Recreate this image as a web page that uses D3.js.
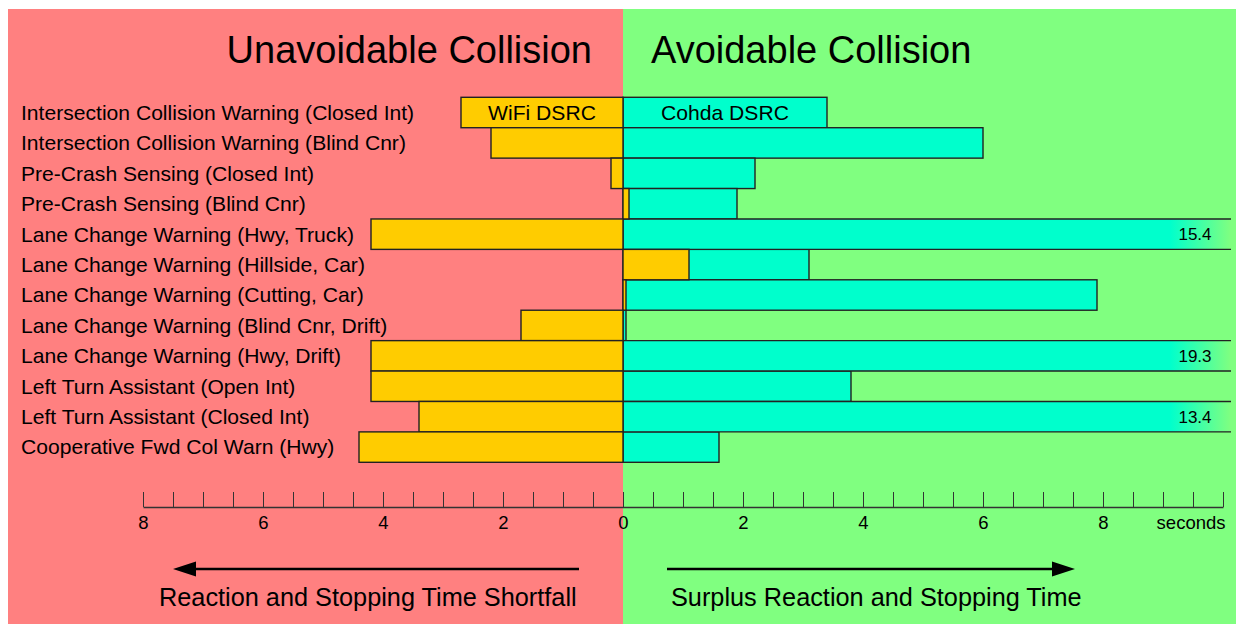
<!DOCTYPE html>
<html><head><meta charset="utf-8">
<script src="https://cdn.jsdelivr.net/npm/d3@7/dist/d3.min.js"></script>
<style>body{margin:0;background:#fff}svg{display:block;font-family:"Liberation Sans",Arial,sans-serif}</style>
</head><body><svg id="c" width="1236" height="624"></svg>
<script>
const categories = [
  "Intersection Collision Warning (Closed Int)",
  "Intersection Collision Warning (Blind Cnr)",
  "Pre-Crash Sensing (Closed Int)",
  "Pre-Crash Sensing (Blind Cnr)",
  "Lane Change Warning (Hwy, Truck)",
  "Lane Change Warning (Hillside, Car)",
  "Lane Change Warning (Cutting, Car)",
  "Lane Change Warning (Blind Cnr, Drift)",
  "Lane Change Warning (Hwy, Drift)",
  "Left Turn Assistant (Open Int)",
  "Left Turn Assistant (Closed Int)",
  "Cooperative Fwd Col Warn (Hwy)"
];
const wifi  = [-2.7, -2.2, -0.2, 0.1, -4.2, 1.1, 0.05, -1.7, -4.2, -4.2, -3.4, -4.4];
const cohda = [3.4, 6.0, 2.2, 1.9, 15.4, 3.1, 7.9, 0.05, 19.3, 3.8, 13.4, 1.6];
const seriesNames = ["WiFi DSRC", "Cohda DSRC"];
const tickValues = [-8, -6, -4, -2, 0, 2, 4, 6, 8, 10];
const tickLabels = ["8", "6", "4", "2", "0", "2", "4", "6", "8", "seconds"];
const titles = ["Unavoidable Collision", "Avoidable Collision"];
const footers = ["Reaction and Stopping Time Shortfall", "Surplus Reaction and Stopping Time"];

const svg = d3.select("#c");
const x = d3.scaleLinear().domain([-8, 10]).range([143, 1223]);
const y = d3.scaleBand().domain(categories).range([97.3, 462.3]).padding(0);
const cutX = 1231, fadeX = 1170;
const RED = "#ff8080", GREEN = "#80ff80", YEL = "#ffcc00", CYAN = "#00ffcc";
const LBL = 21.1;

// backgrounds
svg.append("rect").attr("x", 8).attr("y", 9).attr("width", x(0) - 8).attr("height", 624 - 9).attr("fill", RED);
svg.append("rect").attr("x", x(0)).attr("y", 9).attr("width", 1236 - x(0)).attr("height", 624 - 9).attr("fill", GREEN);

const defs = svg.append("defs");
const g = defs.append("linearGradient").attr("id", "fade").attr("gradientUnits", "userSpaceOnUse")
  .attr("x1", fadeX).attr("x2", cutX).attr("y1", 0).attr("y2", 0);
g.append("stop").attr("offset", 0).attr("stop-color", CYAN);
g.append("stop").attr("offset", 1).attr("stop-color", GREEN);

// titles
svg.append("text").attr("x", 592).attr("y", 63).attr("text-anchor", "end").attr("font-size", 38).text(titles[0]);
svg.append("text").attr("x", 651).attr("y", 63).attr("text-anchor", "start").attr("font-size", 38).text(titles[1]);

// row labels
svg.append("g").selectAll("text").data(categories).join("text")
  .attr("x", 21).attr("y", d => y(d) + y.bandwidth() / 2).attr("dy", "0.35em")
  .attr("font-size", LBL).text(d => d);

function barRect(sel, vals, fill) {
  const rows = vals.map((v, i) => ({v, i}));
  const normal = rows.filter(d => x(d.v) <= cutX);
  const over = rows.filter(d => x(d.v) > cutX);
  sel.selectAll("rect.n").data(normal).join("rect").attr("class", "n")
    .attr("x", d => d.v < 0 ? x(d.v) : x(0))
    .attr("width", d => Math.abs(x(d.v) - x(0)))
    .attr("y", d => y(categories[d.i]))
    .attr("height", y.bandwidth())
    .attr("fill", fill)
    .attr("stroke", "#222").attr("stroke-width", 1.4);
  const o = sel.selectAll("g.o").data(over).join("g").attr("class", "o");
  o.append("rect").attr("x", x(0)).attr("width", cutX - x(0))
    .attr("y", d => y(categories[d.i])).attr("height", y.bandwidth()).attr("fill", "url(#fade)");
  o.append("path").attr("fill", "none").attr("stroke", "#222").attr("stroke-width", 1.4)
    .attr("d", d => { const t = y(categories[d.i]), b = t + y.bandwidth();
      return `M${cutX},${t}H${x(0)}V${b}H${cutX}`; });
}
barRect(svg.append("g"), cohda, CYAN);
barRect(svg.append("g"), wifi, YEL);

// overflow value labels
svg.append("g").selectAll("text").data(cohda.map((v, i) => ({v, i})).filter(d => x(d.v) > cutX)).join("text")
  .attr("x", 1195).attr("y", d => y(categories[d.i]) + y.bandwidth() / 2).attr("dy", "0.35em")
  .attr("text-anchor", "middle").attr("font-size", 17).text(d => d.v.toFixed(1));

// series labels in first row
svg.append("text").attr("x", (x(wifi[0]) + x(0)) / 2).attr("y", y(categories[0]) + y.bandwidth() / 2).attr("dy", "0.35em")
  .attr("text-anchor", "middle").attr("font-size", LBL).text(seriesNames[0]);
svg.append("text").attr("x", (x(cohda[0]) + x(0)) / 2).attr("y", y(categories[0]) + y.bandwidth() / 2).attr("dy", "0.35em")
  .attr("text-anchor", "middle").attr("font-size", LBL).text(seriesNames[1]);

// axis
const axis = d3.axisBottom(x).tickValues(d3.range(-8, 10.001, 0.5)).tickSizeInner(-15).tickSizeOuter(0).tickPadding(9)
  .tickFormat(v => { const k = tickValues.indexOf(v); return k >= 0 ? tickLabels[k] : ""; });
const ax = svg.append("g").attr("transform", "translate(0,507)").call(axis);
ax.select(".domain").attr("stroke", "#333").attr("stroke-width", 1.3);
ax.selectAll(".tick line").attr("stroke", "#333").attr("stroke-width", 1);
ax.selectAll(".tick text").attr("font-size", 18.5).attr("fill", "#000").attr("font-family", "Liberation Sans, Arial, sans-serif");
ax.selectAll(".tick text").filter(d => d === 10).attr("text-anchor", "end").attr("dx", 2);

// arrows
function arrow(x1, x2, yy) {
  const dir = Math.sign(x2 - x1), head = 23, hw = 7.5;
  svg.append("line").attr("x1", x1).attr("x2", x2 - dir * head).attr("y1", yy).attr("y2", yy)
    .attr("stroke", "#000").attr("stroke-width", 2.5);
  svg.append("path").attr("d", `M${x2},${yy} L${x2 - dir * head},${yy - hw} L${x2 - dir * head},${yy + hw} Z`).attr("fill", "#000");
}
arrow(579, 173, 569);
arrow(667, 1075, 569);
svg.append("text").attr("x", 159).attr("y", 606).attr("font-size", 25.3).text(footers[0]);
svg.append("text").attr("x", 671).attr("y", 606).attr("font-size", 25.3).text(footers[1]);
</script></body></html>
